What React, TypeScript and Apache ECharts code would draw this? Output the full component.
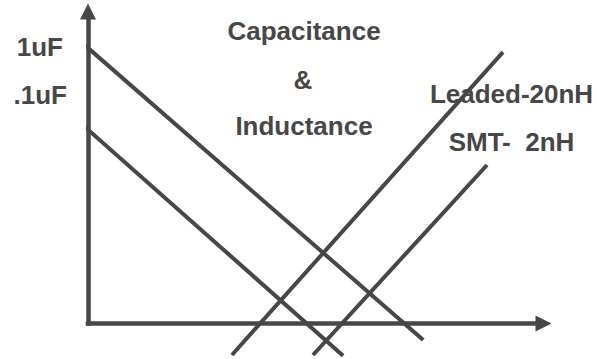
import React, { useEffect, useRef } from 'react';
import * as echarts from 'echarts';

// Conceptual impedance-vs-frequency lines (axis units 0..100 on both axes)
const capacitor1uF = [[-3.3, 92.5], [73.6, -5.3]];
const capacitor01uF = [[-3.3, 66.4], [56.0, -10.3]];
const inductorLeaded = [[31.6, -10.1], [91.1, 87.0]];
const inductorSMT = [[49.4, -10.1], [87.6, 50.8]];
const axisMin = 0;
const axisMax = 100;

const titleLines = ['Capacitance', '&', 'Inductance'];
const capacitorLabels = ['1uF', '.1uF'];
const inductorLabels = ['Leaded-20nH', 'SMT-  2nH'];

const INK = '#474747';
const FONT = 'bold 26px "Liberation Sans", Arial, sans-serif';

export default function App() {
  const ref = useRef<HTMLDivElement>(null);

  useEffect(() => {
    if (!ref.current) return;
    const chart = echarts.init(ref.current, undefined, { renderer: 'svg' });

    const lineSeries = (name: string, data: number[][]) => ({
      name,
      type: 'line',
      data,
      showSymbol: false,
      symbol: 'none',
      clip: false,
      silent: true,
      lineStyle: { color: INK, width: 4, cap: 'butt' },
    });

    const s0: any = lineSeries(capacitorLabels[0], capacitor1uF);
    s0.markLine = {
      silent: true,
      animation: false,
      symbol: ['none', 'triangle'],
      symbolSize: 16,
      label: { show: false },
      lineStyle: { color: INK, width: 4.5, type: 'solid', cap: 'square' },
      itemStyle: { color: INK },
      data: [
        [{ coord: [axisMin, axisMin] }, { coord: [axisMax, axisMin] }],
        [{ coord: [axisMin, axisMin] }, { coord: [axisMin, axisMax] }],
      ],
    };

    const text = (t: string, x: number, y: number, align: string) => ({
      type: 'text',
      x,
      y,
      silent: true,
      style: {
        text: t,
        font: FONT,
        fill: INK,
        align,
        textAlign: align,
        verticalAlign: 'middle',
        textVerticalAlign: 'middle',
      },
    });

    chart.setOption({
      animation: false,
      grid: { left: 88, right: 53.5, top: 11.5, bottom: 35.5, containLabel: false },
      xAxis: { type: 'value', min: axisMin, max: axisMax, show: false },
      yAxis: { type: 'value', min: axisMin, max: axisMax, show: false },
      series: [
        s0,
        lineSeries(capacitorLabels[1], capacitor01uF),
        lineSeries(inductorLabels[0], inductorLeaded),
        lineSeries(inductorLabels[1], inductorSMT),
      ],
      graphic: [
        text(titleLines[0], 304, 31, 'center'),
        text(titleLines[1], 303, 80, 'center'),
        text(titleLines[2], 304, 125.5, 'center'),
        text(capacitorLabels[0], 63, 47, 'right'),
        text(capacitorLabels[1], 67, 95, 'right'),
        text(inductorLabels[0], 511.5, 94, 'center'),
        text(inductorLabels[1], 511.5, 142, 'center'),
      ],
    });

    return () => chart.dispose();
  }, []);

  return (
    <div
      ref={ref}
      style={{ position: 'absolute', left: 0, top: 0, width: 597, height: 359, background: '#fff' }}
    />
  );
}
